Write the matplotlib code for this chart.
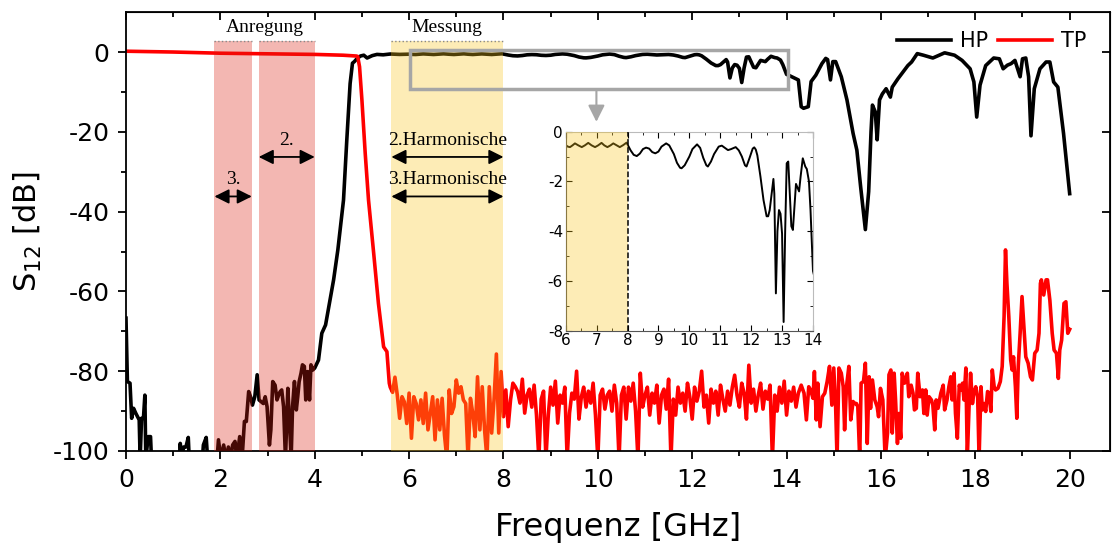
import numpy as np
import matplotlib
matplotlib.use("Agg")
import matplotlib.pyplot as plt
from matplotlib.patches import Rectangle

plt.rcParams['font.family'] = ['DejaVu Sans']
plt.rcParams['axes.unicode_minus'] = False

# HP: S12 of the high-pass (GHz, dB); -102 marks points below the plot floor
hp_freq = [0.00, 0.03, 0.085, 0.12, 0.16, 0.21, 0.28, 0.30, 0.33, 0.37, 0.40, 0.42, 0.47, 0.52, 0.54,
           1.13, 1.15, 1.18, 1.22, 1.27, 1.32, 1.34, 1.62, 1.64, 1.70, 1.73, 1.93, 1.96, 2.01, 2.07,
           2.12, 2.17, 2.22, 2.26, 2.31, 2.35, 2.41, 2.46, 2.51, 2.55, 2.60, 2.64, 2.68, 2.73, 2.78,
           2.82, 2.86, 2.91, 2.95, 2.99, 3.04, 3.07, 3.11, 3.16, 3.20, 3.25, 3.27, 3.30, 3.34, 3.38,
           3.40, 3.43, 3.47, 3.50, 3.53, 3.57, 3.61, 3.64, 3.67, 3.71, 3.74, 3.78, 3.81, 3.85, 3.89,
           3.92, 3.96, 4.00, 4.08, 4.15, 4.23, 4.30, 4.40, 4.49, 4.58, 4.61, 4.68, 4.75, 4.80, 4.84,
           4.90, 4.97, 5.04, 5.11, 5.22, 5.32, 5.45, 5.60, 5.80,
           6.00, 6.07, 6.14, 6.22, 6.30, 6.41, 6.52, 6.62, 6.73, 6.84, 6.95, 7.05, 7.16, 7.25, 7.35,
           7.45, 7.54, 7.65, 7.75, 7.86, 7.97, 8.10, 8.20, 8.30, 8.40, 8.50, 8.60, 8.70, 8.80, 8.90,
           9.00, 9.10, 9.25, 9.35, 9.50, 9.60, 9.70, 9.75, 9.85, 10.00, 10.10, 10.25, 10.35, 10.45, 10.55,
           10.60, 10.70, 10.80, 10.95, 11.05, 11.15, 11.25, 11.35, 11.50, 11.60, 11.70, 11.80, 11.85, 11.95, 12.05,
           12.10, 12.15, 12.20, 12.30, 12.40, 12.50, 12.55, 12.60, 12.70, 12.72,
           12.75, 12.80, 12.85, 12.90, 12.95, 13.00, 13.05, 13.10, 13.15, 13.20, 13.30, 13.35, 13.40, 13.45, 13.55,
           13.60, 13.67, 13.75, 13.80, 13.87, 13.92, 14.00, 14.04, 14.25, 14.31, 14.36, 14.46, 14.52, 14.62, 14.75,
           14.83, 14.87, 14.93, 14.98, 15.04, 15.16, 15.28, 15.41, 15.49, 15.57, 15.67, 15.74, 15.79, 15.82, 15.88,
           15.92, 15.97, 16.03, 16.11, 16.20, 16.24, 16.36, 16.57, 16.65, 16.77, 16.90, 17.10, 17.35, 17.56, 17.72,
           17.89, 17.97, 18.03, 18.10, 18.22, 18.39, 18.51, 18.59, 18.68, 18.76, 18.84, 18.95, 19.00, 19.07, 19.13,
           19.18, 19.25, 19.37, 19.50, 19.58, 19.66, 19.75, 19.87, 20.00]
hp_db = [-66.7, -82.6, -83.0, -91.8, -89.3, -90.6, -92.2, -102, -91.8, -91.8, -86.0, -102, -96.4, -96.4, -102,
         -102, -98.1, -102, -99.0, -99.0, -96.6, -102, -102, -98.5, -96.6, -102, -102, -97.2, -102, -98.5,
         -102, -99.0, -102, -98.5, -97.6, -102, -96.4, -102, -92.6, -92.6, -85.1, -86.4, -88.5, -86.4, -80.9,
         -87.2, -87.6, -88.1, -86.4, -88.9, -98.5, -94.7, -82.6, -83.5, -87.2, -85.5, -85.1, -84.7, -88.9, -102,
         -94.7, -84.3, -93.9, -102, -88.9, -82.6, -89.7, -86.4, -82.6, -80.5, -78.4, -78.8, -87.2, -80.1, -87.2,
         -78.4, -79.7, -79.2, -77.2, -70.5, -68.4, -63.8, -57.1, -49.6, -40.4, -37.1, -22.0, -7.9, -2.8, -2.4,
         -1.6, -1.0, -0.8, -1.5, -0.9, -0.6, -0.7, -0.5, -0.6,
         -0.54, -0.60, -0.62, -0.55, -0.47, -0.55, -0.62, -0.55, -0.45, -0.55, -0.62, -0.55, -0.45, -0.55, -0.62,
         -0.55, -0.47, -0.55, -0.62, -0.54, -0.44, -0.75, -0.93, -0.98, -0.88, -0.70, -0.64, -0.68, -0.82, -0.87,
         -0.80, -0.60, -0.47, -0.55, -0.90, -1.25, -1.45, -1.47, -1.35, -1.00, -0.70, -0.51, -0.65, -1.05, -1.35,
         -1.40, -1.20, -0.90, -0.60, -0.56, -0.65, -0.74, -0.70, -0.62, -0.75, -1.00, -1.35, -1.40, -1.05, -0.68,
         -0.63, -0.72, -0.95, -1.80, -2.75, -3.40, -3.40, -3.15, -2.10, -1.90,
         -2.5, -6.5, -4.0, -3.15, -3.3, -4.1, -7.65, -4.0, -1.27, -1.2, -3.8, -3.95, -3.0, -2.1, -2.4,
         -1.8, -1.07, -1.4, -1.5, -2.0, -3.15, -5.6, -5.8, -7.0, -13.7, -14.1, -13.7, -7.4, -5.8, -2.9,
         -1.6, -1.9, -7.0, -2.4, -2.4, -6.2, -12.0, -20.4, -24.6, -33.8, -44.5, -35.0, -20.0, -13.3, -15.0,
         -22.0, -12.0, -10.5, -9.2, -11.3, -8.8, -6.7, -3.4, -2.5, -0.4, -0.8, -1.5, -0.2, -0.8, -2.1,
         -4.2, -7.5, -16.3, -8.3, -3.4, -1.5, -1.7, -4.2, -3.3, -2.9, -2.1, -6.2, -1.7, -1.5, -6.2,
         -21.0, -9.2, -4.2, -2.5, -2.5, -7.5, -8.8, -20.4, -35.5]

# TP: S12 of the low-pass, passband and skirt
tp_edge_freq = [0.0, 1.0, 2.0, 3.0, 4.0, 4.6, 4.88, 4.91, 4.95, 5.00, 5.07, 5.14, 5.25, 5.35, 5.46, 5.53, 5.58]
tp_edge_db = [0.2, 0.0, -0.3, -0.45, -0.6, -0.8, -1.0, -1.1, -3.7, -12.0, -25.4, -37.1, -50.5, -63.0, -73.9, -75.1, -83.0]

# TP stopband, 5.60 ... 14.25 GHz in 0.05 GHz steps (one row per GHz)
tp_floor_db = [
    -84.0, -85.3, -81.5, -86.0, -91.8, -86.4, -87.7, -93.1, -85.5, -96.8, -86.4, -88.1, -92.2, -87.2, -93.1, -85.5, -94.7, -90.6, -86.4, -97.2,
    -87.2, -94.7, -86.8, -96.0, -102, -84.7, -90.6, -88.9, -82.2, -85.5, -83.9, -87.2, -88.1, -102, -86.8, -90.6, -96.4, -81.4, -94.7, -83.9,
    -94.7, -102, -83.9, -95.5, -87.2, -75.7, -95.5, -80.1, -91.4, -84.7, -93.9, -87.2, -83.0, -83.9, -85.1, -88.0, -82.0, -90.5, -86.0, -84.5,
    -89.0, -83.5, -91.0, -102, -87.0, -85.0, -102, -91.0, -84.0, -88.5, -82.5, -93.0, -86.0, -88.0, -84.0, -102, -90.5, -85.5, -87.0, -80.0,
    -92.0, -86.5, -84.0, -89.0, -85.0, -88.0, -83.0, -91.0, -102, -86.0, -84.5, -89.5, -86.0, -85.0, -90.0, -83.5, -88.0, -102, -86.0, -84.0,
    -92.0, -84.0, -87.5, -83.0, -90.0, -102, -80.5, -89.0, -86.0, -84.0, -91.0, -85.5, -88.0, -83.5, -93.0, -86.0, -84.5, -89.5, -82.0, -102,
    -87.0, -91.0, -84.0, -88.0, -85.5, -90.0, -83.0, -86.5, -92.0, -84.0, -87.5, -85.0, -80.0, -89.0, -86.0, -93.0, -84.5, -88.0, -85.0, -91.0,
    -83.5, -87.0, -90.0, -85.0, -88.5, -84.0, -81.0, -86.0, -89.0, -83.0, -85.5, -92.0, -78.5, -88.0, -84.5, -90.0, -86.0, -83.0, -89.5, -85.0,
    -87.0, -83.5, -102, -86.0, -90.0, -84.0, -88.0, -82.5, -91.0, -85.0, -87.5, -84.0, -89.0, -85.5,
]
tp_tail_freq = [14.31, 14.37, 14.42, 14.47, 14.51, 14.56, 14.59, 14.63, 14.66, 14.71, 14.76, 14.81, 14.86, 14.91, 14.96,
                15.00, 15.04, 15.07, 15.11, 15.16, 15.20, 15.23, 15.27, 15.32, 15.36, 15.41, 15.44, 15.48, 15.51, 15.55,
                15.58, 15.63, 15.67, 15.71, 15.75, 15.78, 15.82, 15.87, 15.92, 15.95, 15.99, 16.04, 16.09, 16.14, 16.17,
                16.21, 16.24, 16.28, 16.31, 16.35, 16.38, 16.42, 16.45, 16.50, 16.56, 16.59, 16.64, 16.68, 16.71, 16.75,
                16.78, 16.83, 16.88, 16.91, 16.95, 16.98, 17.02, 17.07, 17.10, 17.14, 17.17, 17.21, 17.27, 17.32, 17.35,
                17.40, 17.44, 17.48, 17.51, 17.55, 17.58, 17.62, 17.66, 17.69, 17.73, 17.76, 17.80, 17.83, 17.87, 17.90,
                17.94, 17.97, 18.01, 18.05, 18.08, 18.12, 18.15, 18.19, 18.22, 18.26, 18.29, 18.33, 18.36, 18.40, 18.43,
                18.48, 18.53,
                18.57, 18.61, 18.64, 18.67, 18.71, 18.75, 18.78, 18.81, 18.85, 18.88, 18.91, 18.95, 18.99, 19.04, 19.07,
                19.12, 19.17, 19.21, 19.26, 19.31, 19.35, 19.38, 19.40, 19.45, 19.50, 19.53, 19.58, 19.63, 19.67, 19.72,
                19.76, 19.79, 19.83, 19.88, 19.92, 19.96, 20.00]
tp_tail_db = [-83.5, -85.5, -92.2, -83.9, -84.7, -86.8, -80.1, -92.2, -83.0, -93.9, -86.4, -85.5, -82.6, -78.8, -88.5,
              -79.2, -88.9, -102, -79.2, -80.5, -83.9, -94.7, -83.9, -78.8, -92.2, -87.6, -88.1, -88.1, -88.9, -102,
              -83.0, -82.6, -78.0, -98.1, -81.4, -89.3, -82.2, -87.2, -88.9, -91.4, -84.3, -87.2, -102, -95.5, -80.9,
              -79.7, -95.5, -80.5, -87.2, -98.1, -90.6, -96.8, -80.5, -83.0, -80.5, -86.4, -83.5, -85.5, -89.7, -89.3,
              -80.5, -86.4, -84.7, -90.6, -84.7, -91.0, -86.4, -87.2, -88.5, -94.7, -87.2, -89.3, -85.5, -83.5, -89.7,
              -87.2, -83.9, -81.4, -87.2, -80.5, -90.6, -96.8, -83.5, -84.7, -83.0, -87.2, -79.2, -102, -88.1, -80.5,
              -88.1, -85.5, -83.9, -86.4, -102, -83.9, -89.7, -88.1, -90.1, -85.1, -85.5, -90.1, -79.7, -83.9, -84.7,
              -84.3, -82.6,
              -78.8, -66.3, -49.6, -58.0, -66.3, -77.2, -79.7, -76.4, -83.9, -91.8, -78.8, -70.5, -61.3, -70.5, -76.4,
              -78.0, -81.4, -82.2, -75.5, -74.7, -70.5, -58.0, -57.1, -60.9, -57.1, -57.1, -62.2, -70.5, -74.7, -75.5,
              -81.8, -74.7, -72.2, -63.0, -62.6, -70.5, -69.5]

tp_floor_freq = np.round(5.60 + 0.05 * np.arange(len(tp_floor_db)), 2)
tp_freq = np.concatenate([tp_edge_freq, tp_floor_freq, tp_tail_freq])
tp_db = np.concatenate([tp_edge_db, tp_floor_db, tp_tail_db])

# excitation / measurement bands (GHz)
meas_band = (5.625, 8.0)
exc_bands = [(5.625 / 3, 8.0 / 3), (5.625 / 2, 8.0 / 2)]
band_red = '#db1f10'
band_yellow = '#f9c51c'

fig = plt.figure(figsize=(11.12, 5.51), dpi=100)
ax = fig.add_axes([0.1133, 0.1815, 0.8847, 0.7965])

ax.plot(hp_freq, hp_db, color='black', lw=2.6, label='HP', zorder=2)
ax.plot(tp_freq, tp_db, color='red', lw=2.6, label='TP', zorder=2)

for lo, hi in exc_bands:
    ax.fill_between([lo, hi], -100, 2.8, color=band_red, alpha=0.32, lw=0, zorder=3)
    ax.plot([lo, hi], [2.8, 2.8], ls=':', color='#888888', lw=1, zorder=3)
ax.fill_between(meas_band, -100, 2.8, color=band_yellow, alpha=0.32, lw=0, zorder=3)
ax.plot(meas_band, [2.8, 2.8], ls=':', color='#888888', lw=1, zorder=3)

serif = dict(family='Liberation Serif', fontsize=14, ha='center', zorder=5)
ax.text(2.94, 4.0, 'Anregung', va='bottom', **serif)
ax.text(6.81, 4.0, 'Messung', va='bottom', **serif)

arr = dict(arrowstyle='<|-|>', color='black', lw=1.3, mutation_scale=22, shrinkA=0, shrinkB=0)
for (lo, hi), y, lab in [(exc_bands[1], -26.3, '2.'), (exc_bands[0], -36.2, '3.'),
                         (meas_band, -26.3, '2.Harmonische'), (meas_band, -36.2, '3.Harmonische')]:
    ax.annotate('', xy=(lo, y), xytext=(hi, y), arrowprops=arr, zorder=5)
    ax.text((lo + hi) / 2, y + 2.0, lab, va='bottom', **serif)

# zoom frame and pointer to the inset
ax.add_patch(Rectangle((6.02, -9.2), 8.02, 9.7, fill=False, ec='#a6a6a6', lw=2.5, zorder=4))
ax.annotate('', xy=(9.97, -17.5), xytext=(9.97, -9.3),
            arrowprops=dict(arrowstyle='-|>', color='#a6a6a6', lw=1.5, mutation_scale=25,
                            shrinkA=0, shrinkB=0), zorder=4)

ax.set_xlim(0, 20.85)
ax.set_ylim(-100, 10)
ax.set_xticks(np.arange(0, 21, 2))
ax.set_xticks(np.arange(1, 21, 2), minor=True)
ax.set_yticks(np.arange(-100, 1, 20))
ax.set_yticks(np.arange(-90, 10, 20), minor=True)
ax.tick_params(which='both', direction='out', width=1.3, labelsize=18, pad=6)
ax.tick_params(which='major', length=6)
ax.tick_params(which='minor', length=3.5)
for s in ax.spines.values():
    s.set_linewidth(1.3)
# inward ticks on the mirrored sides
secx = ax.secondary_xaxis('top')
secx.set_xticks(np.arange(0, 21, 2))
secx.set_xticks(np.arange(1, 21, 2), minor=True)
secx.tick_params(which='both', direction='in', labeltop=False, width=1.3)
secx.tick_params(which='major', length=6)
secx.tick_params(which='minor', length=3.5)
secy = ax.secondary_yaxis('right')
secy.set_yticks(np.arange(-100, 1, 20))
secy.tick_params(which='both', direction='in', labelright=False, width=1.3, length=6)

ax.set_xlabel('Frequenz [GHz]', fontsize=23, labelpad=15)
ax.set_ylabel('S$_{12}$ [dB]', fontsize=22, labelpad=6)

ax.legend(loc='upper right', bbox_to_anchor=(0.995, 1.0), ncol=2, frameon=False, fontsize=15,
          handlelength=2.6, columnspacing=0.5, handletextpad=0.4)

# inset: passband detail of HP
ins = fig.add_axes([0.5087, 0.3998, 0.2224, 0.3612])
ins.plot(hp_freq, hp_db, color='black', lw=1.4, zorder=2)
ins.axvspan(6, 8, color=band_yellow, alpha=0.32, lw=0, zorder=3)
ins.axvline(8, color='black', ls='--', lw=1.1, zorder=4)
ins.set_xlim(6, 14)
ins.set_ylim(-8, 0)
ins.set_xticks(np.arange(6, 15, 1))
ins.set_xticks(np.arange(6.5, 14, 1), minor=True)
ins.set_yticks(np.arange(-8, 1, 2))
ins.set_yticks(np.arange(-7, 0, 2), minor=True)
ins.tick_params(which='both', direction='in', top=True, right=True, labelsize=11, pad=2)
ins.tick_params(which='major', length=4)
ins.tick_params(which='minor', length=2.5)
for side in ('top', 'right'):
    ins.spines[side].set_color('#bbbbbb')
for side in ('left', 'bottom'):
    ins.spines[side].set_color('#555555')

fig.savefig('out.png', dpi=100)
